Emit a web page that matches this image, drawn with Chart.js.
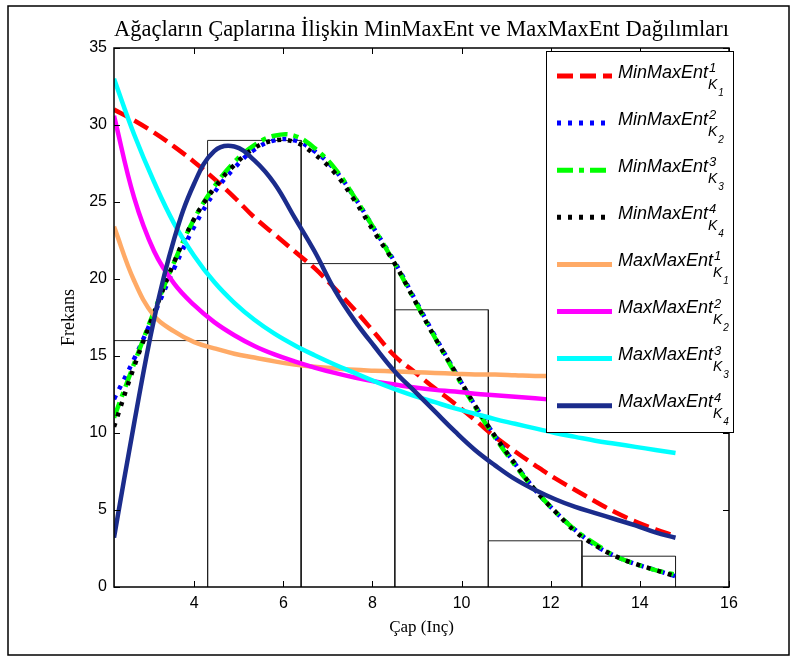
<!DOCTYPE html>
<html>
<head>
<meta charset="utf-8">
<script src="https://cdn.jsdelivr.net/npm/chart.js@4.4.1/dist/chart.umd.min.js"></script>
<style>
  body { margin: 0; background: #fff; }
  #c { display: block; }
</style>
</head>
<body>
<canvas id="c" width="797" height="662"></canvas>
<script>
// histogram (bin edges + counts)
const binEdges = [2.2, 4.3, 6.4, 8.5, 10.6, 12.7, 14.8];
const binCounts = [16, 29, 21, 18, 3, 2];

// x positions where the fitted curves were read
const xs = [2.2, 2.65, 3.1, 3.55, 4.0, 4.45, 4.9, 5.35, 5.8, 6.25, 6.7, 7.15, 7.6, 8.05, 8.5,
            8.95, 9.4, 9.85, 10.3, 10.75, 11.2, 11.65, 12.1, 12.55, 13.0, 13.45, 13.9, 14.35, 14.8];

const minK1 = [31.0, 30.3, 29.5, 28.6, 27.6, 26.5, 25.3, 24.0, 22.9, 21.8, 20.7, 19.4, 18.0, 16.5, 15.0,
               13.95, 12.9, 11.9, 10.85, 9.75, 8.8, 7.9, 7.05, 6.3, 5.55, 4.85, 4.25, 3.75, 3.3];
const minK2 = [12.2, 14.8, 17.7, 20.7, 23.4, 25.6, 27.2, 28.4, 29.0, 29.0, 28.3, 27.1, 25.3, 23.2, 21.1,
               18.7, 16.3, 14.0, 11.8, 9.8, 8.0, 6.3, 4.9, 3.7, 2.7, 2.0, 1.5, 1.1, 0.7];
const minK3 = [11.0, 14.5, 17.9, 21.1, 23.9, 26.0, 27.6, 28.7, 29.3, 29.3, 28.5, 27.2, 25.3, 23.2, 21.0,
               18.6, 16.2, 13.9, 11.7, 9.7, 7.9, 6.3, 4.9, 3.7, 2.8, 2.0, 1.5, 1.1, 0.8];
const minK4 = [10.4, 14.3, 17.8, 21.1, 23.9, 25.9, 27.4, 28.5, 29.0, 28.9, 28.1, 26.9, 25.1, 23.0, 21.0,
               18.6, 16.2, 14.0, 11.8, 9.8, 8.0, 6.3, 4.9, 3.6, 2.7, 2.0, 1.5, 1.1, 0.7];
const maxK1 = [23.4, 19.9, 17.6, 16.6, 15.9, 15.5, 15.15, 14.9, 14.65, 14.45, 14.3, 14.2, 14.1, 14.05, 14.0,
               13.95, 13.9, 13.85, 13.8, 13.8, 13.75, 13.7, 13.7, 13.65, 13.65, 13.6, 13.6, 13.6, 13.55];
const maxK2 = [30.6, 25.3, 21.8, 19.7, 18.3, 17.2, 16.35, 15.65, 15.1, 14.65, 14.25, 13.9, 13.6, 13.35, 13.15,
               12.95, 12.8, 12.7, 12.55, 12.45, 12.35, 12.25, 12.15, 12.05, 11.95, 11.85, 11.8, 11.7, 11.65];
const maxK3 = [33.0, 29.4, 26.3, 23.6, 21.5, 19.8, 18.45, 17.35, 16.45, 15.7, 15.05, 14.45, 13.9, 13.35, 12.85,
               12.4, 12.0, 11.6, 11.25, 10.9, 10.6, 10.3, 10.0, 9.75, 9.5, 9.3, 9.1, 8.9, 8.7];
const maxK4 = [3.2, 10.6, 17.4, 22.6, 26.2, 28.3, 28.6, 27.7, 26.2, 24.0, 21.8, 19.3, 17.3, 15.6, 14.0,
               12.7, 11.4, 10.1, 8.9, 7.9, 7.0, 6.3, 5.7, 5.2, 4.8, 4.4, 4.0, 3.55, 3.2];

const xTickValues = [4, 6, 8, 10, 12, 14, 16];
const yTickValues = [0, 5, 10, 15, 20, 25, 30, 35];

const seriesNames = ['MinMaxEnt', 'MinMaxEnt', 'MinMaxEnt', 'MinMaxEnt',
                     'MaxMaxEnt', 'MaxMaxEnt', 'MaxMaxEnt', 'MaxMaxEnt'];
const seriesIndex = ['1', '2', '3', '4', '1', '2', '3', '4'];

const pts = ys => xs.map((x, i) => ({ x: x, y: ys[i] }));

// rectangles of the histogram, separated by gaps
const histPts = [];
binCounts.forEach((h, i) => {
  const l = binEdges[i], r = binEdges[i + 1];
  histPts.push({ x: l, y: 0 }, { x: l, y: h }, { x: r, y: h }, { x: r, y: 0 }, { x: r, y: null });
});

const curve = (ys, color, dash, idx) => ({
  data: pts(ys),
  borderColor: color,
  borderWidth: 4.5,
  borderDash: dash,
  borderCapStyle: 'butt',
  pointRadius: 0,
  tension: 0.4,
  fill: false,
  order: -idx
});

const datasets = [
  { data: histPts, borderColor: '#222', borderWidth: 1, pointRadius: 0, spanGaps: false, fill: false, order: 0 },
  curve(minK1, '#ff0000', [16, 7], 1),
  curve(minK2, '#0000ff', [4, 7], 2),
  curve(minK3, '#00ff00', [16, 6, 5, 6], 3),
  curve(minK4, '#000000', [4, 7], 4),
  curve(maxK1, '#ffaa66', [], 5),
  curve(maxK2, '#ff00ff', [], 6),
  curve(maxK3, '#00ffff', [], 7),
  curve(maxK4, '#1b2c8c', [], 8)
];

// MATLAB style box, inward ticks, outer frame and legend
const matlabPlugin = {
  id: 'matlabBox',
  beforeDraw(chart) {
    const ctx = chart.ctx;
    ctx.save();
    ctx.fillStyle = '#fff';
    ctx.fillRect(0, 0, chart.width, chart.height);
    ctx.strokeStyle = '#000';
    ctx.lineWidth = 1.5;
    ctx.strokeRect(8, 6, 781, 649);
    ctx.restore();
  },
  afterDatasetsDraw(chart) {
    const ctx = chart.ctx, a = chart.chartArea;
    const xs_ = chart.scales.x, ys_ = chart.scales.y;
    ctx.save();
    ctx.strokeStyle = '#000';
    ctx.lineWidth = 1;
    ctx.beginPath();
    xs_.ticks.forEach(t => {
      const p = Math.round(xs_.getPixelForValue(t.value)) + 0.5;
      ctx.moveTo(p, a.bottom); ctx.lineTo(p, a.bottom - 6);
      ctx.moveTo(p, a.top); ctx.lineTo(p, a.top + 6);
    });
    ys_.ticks.forEach(t => {
      const p = Math.round(ys_.getPixelForValue(t.value)) + 0.5;
      ctx.moveTo(a.left, p); ctx.lineTo(a.left + 6, p);
      ctx.moveTo(a.right, p); ctx.lineTo(a.right - 6, p);
    });
    ctx.stroke();
    ctx.lineWidth = 1.5;
    ctx.strokeRect(a.left, a.top, a.right - a.left, a.bottom - a.top);

    // legend
    const lx = 546, ly = 51, lw = 187, lh = 381;
    ctx.fillStyle = '#fff';
    ctx.fillRect(lx, ly, lw, lh);
    ctx.lineWidth = 1;
    ctx.strokeRect(lx + 0.5, ly + 0.5, lw, lh);
    for (let i = 0; i < 8; i++) {
      const ds = chart.data.datasets[i + 1];
      const yy = ly + 25 + i * 47.1;
      ctx.strokeStyle = ds.borderColor;
      ctx.lineWidth = 5;
      ctx.setLineDash(ds.borderDash);
      ctx.beginPath();
      ctx.moveTo(557, yy); ctx.lineTo(612, yy);
      ctx.stroke();
      ctx.setLineDash([]);
      ctx.fillStyle = '#000';
      ctx.textBaseline = 'alphabetic';
      ctx.textAlign = 'left';
      ctx.font = 'italic 18px "Liberation Sans", Arial, sans-serif';
      ctx.fillText(seriesNames[i], 618, yy + 1.5);
      const w = ctx.measureText(seriesNames[i]).width;
      ctx.font = 'italic 13px "Liberation Sans", Arial, sans-serif';
      ctx.fillText(seriesIndex[i], 618 + w + 1, yy - 4);
      ctx.font = 'italic 14px "Liberation Sans", Arial, sans-serif';
      ctx.fillText('K', 618 + w, yy + 12.5);
      const kw = ctx.measureText('K').width;
      ctx.font = 'italic 10px "Liberation Sans", Arial, sans-serif';
      ctx.fillText(seriesIndex[i], 618 + w + kw + 1, yy + 19.5);
    }
    ctx.restore();
  }
};

new Chart(document.getElementById('c').getContext('2d'), {
  type: 'line',
  data: { datasets: datasets },
  options: {
    responsive: false,
    animation: false,
    layout: { padding: { left: 50, right: 68, top: 0, bottom: 10 } },
    plugins: {
      legend: { display: false },
      tooltip: { enabled: false },
      title: {
        display: true,
        fullSize: false,
        text: 'Ağaçların Çaplarına İlişkin MinMaxEnt ve MaxMaxEnt Dağılımları',
        color: '#000',
        font: { family: '"Liberation Serif", "Times New Roman", serif', size: 23.5, weight: 'normal' },
        padding: { top: 16, bottom: 3.8 }
      }
    },
    scales: {
      x: {
        type: 'linear',
        min: 2.2,
        max: 16,
        afterBuildTicks: s => { s.ticks = xTickValues.map(v => ({ value: v })); },
        afterFit: s => { s.height = 65; },
        grid: { display: false, drawTicks: false },
        border: { display: false },
        ticks: {
          color: '#000',
          padding: 7,
          maxRotation: 0,
          font: { family: '"Liberation Sans", Arial, sans-serif', size: 16 }
        },
        title: {
          display: true,
          text: 'Çap (Inç)',
          color: '#000',
          font: { family: '"Liberation Serif", "Times New Roman", serif', size: 17 },
          padding: { top: 0, bottom: 14 }
        }
      },
      y: {
        min: 0,
        max: 35,
        afterBuildTicks: s => { s.ticks = yTickValues.map(v => ({ value: v })); },
        afterFit: s => { s.width = 64; },
        grid: { display: false, drawTicks: false },
        border: { display: false },
        ticks: {
          color: '#000',
          padding: 7,
          font: { family: '"Liberation Sans", Arial, sans-serif', size: 16 }
        },
        title: {
          display: true,
          text: 'Frekans',
          color: '#000',
          font: { family: '"Liberation Serif", "Times New Roman", serif', size: 18 },
          padding: { top: 8, bottom: 0 }
        }
      }
    }
  },
  plugins: [matlabPlugin]
});
</script>
</body>
</html>
